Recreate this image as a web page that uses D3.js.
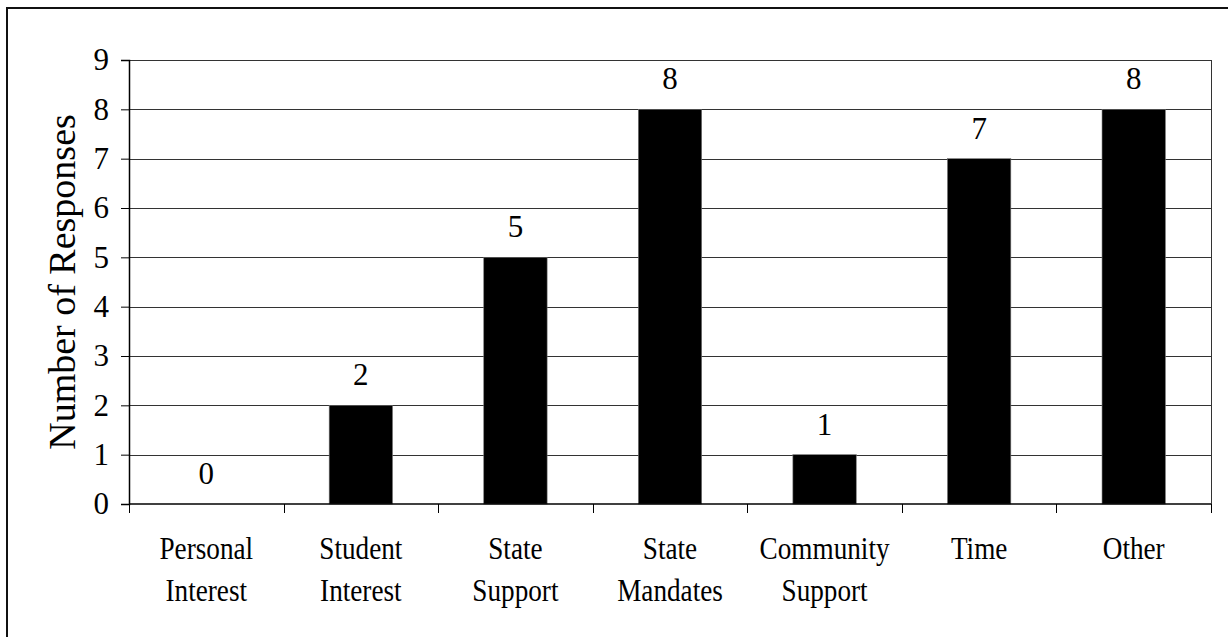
<!DOCTYPE html>
<html>
<head>
<meta charset="utf-8">
<script src="https://cdn.jsdelivr.net/npm/d3@7"></script>
<style>
  html, body { margin: 0; padding: 0; background: #fff; }
  svg { display: block; }
  text { font-family: "Liberation Serif", "Times New Roman", serif; fill: #000; }
</style>
</head>
<body>
<svg id="chart" width="1228" height="637"></svg>
<script>
// Survey responses per category
const categories = [
  ["Personal", "Interest"],
  ["Student", "Interest"],
  ["State", "Support"],
  ["State", "Mandates"],
  ["Community", "Support"],
  ["Time"],
  ["Other"]
];
const responses = [0, 2, 5, 8, 1, 7, 8];
const yTicks = [0, 1, 2, 3, 4, 5, 6, 7, 8, 9];
const yTitle = "Number of Responses";

const svg = d3.select("#chart");
const W = 1228, H = 637;
const plot = { left: 129, right: 1211, top: 60, bottom: 504 };

// Outer frame (right and bottom edges fall outside the view)
svg.append("rect")
  .attr("x", 7).attr("y", 8)
  .attr("width", W + 20).attr("height", H + 20)
  .attr("fill", "#fff").attr("stroke", "#111").attr("stroke-width", 2);

const keys = categories.map((c, i) => i);
const x = d3.scaleBand()
  .domain(keys)
  .range([plot.left, plot.right])
  .paddingInner(0.59)
  .paddingOuter(0.295);
const step = x.step();

const y = d3.scaleLinear()
  .domain([0, 9])
  .range([plot.bottom, plot.top]);

// Horizontal gridlines
svg.append("g")
  .selectAll("line")
  .data(yTicks.slice(1))
  .join("line")
  .attr("x1", plot.left).attr("x2", plot.right)
  .attr("y1", d => Math.round(y(d)) + 0.5).attr("y2", d => Math.round(y(d)) + 0.5)
  .attr("stroke", "#333").attr("stroke-width", 1);

// Right plot border
svg.append("line")
  .attr("x1", plot.right + 0.5).attr("x2", plot.right + 0.5)
  .attr("y1", plot.top).attr("y2", plot.bottom)
  .attr("stroke", "#333").attr("stroke-width", 1);

// Bars
svg.append("g")
  .selectAll("rect")
  .data(responses)
  .join("rect")
  .attr("x", (d, i) => x(i))
  .attr("y", d => y(d))
  .attr("width", x.bandwidth())
  .attr("height", d => y(0) - y(d))
  .attr("fill", "#000")
  .attr("stroke", "#777").attr("stroke-width", 0.6);

// Value labels
svg.append("g")
  .selectAll("text")
  .data(responses)
  .join("text")
  .attr("x", (d, i) => x(i) + x.bandwidth() / 2)
  .attr("y", d => y(d) - 20)
  .attr("text-anchor", "middle")
  .attr("font-size", 31)
  .text(d => d);

// Y axis
const yAxis = d3.axisLeft(y)
  .tickValues(yTicks)
  .tickSize(8)
  .tickPadding(12)
  .tickFormat(d3.format("d"));
const gy = svg.append("g")
  .attr("transform", `translate(${plot.left},0)`)
  .call(yAxis);
gy.select(".domain").attr("stroke", "#000").attr("stroke-width", 1.5);
gy.selectAll(".tick line").attr("stroke", "#000").attr("stroke-width", 1);
gy.selectAll(".tick text")
  .attr("font-size", 31)
  .attr("font-family", "Liberation Serif, Times New Roman, serif")
  .attr("fill", "#000");

// X axis baseline with ticks at category boundaries
const boundaries = d3.range(categories.length + 1).map(i => plot.left + i * step);
svg.append("line")
  .attr("x1", plot.left).attr("x2", plot.right)
  .attr("y1", plot.bottom).attr("y2", plot.bottom)
  .attr("stroke", "#000").attr("stroke-width", 1.5);
svg.append("g")
  .selectAll("line")
  .data(boundaries)
  .join("line")
  .attr("x1", d => Math.round(d) + 0.5).attr("x2", d => Math.round(d) + 0.5)
  .attr("y1", plot.bottom).attr("y2", plot.bottom + 9)
  .attr("stroke", "#000").attr("stroke-width", 1);

// Category labels
const catG = svg.append("g")
  .selectAll("g")
  .data(categories)
  .join("g")
  .attr("transform", (d, i) => `translate(${x(i) + x.bandwidth() / 2},0)`);
catG.selectAll("text")
  .data(d => d)
  .join("text")
  .attr("transform", (d, j) => `translate(0,${559 + j * 42}) scale(0.85,1)`)
  .attr("text-anchor", "middle")
  .attr("font-size", 32)
  .text(d => d);

// Y axis title
svg.append("text")
  .attr("transform", `translate(75,${(plot.top + plot.bottom) / 2}) rotate(-90)`)
  .attr("text-anchor", "middle")
  .attr("font-size", 38)
  .text(yTitle);
</script>
</body>
</html>
